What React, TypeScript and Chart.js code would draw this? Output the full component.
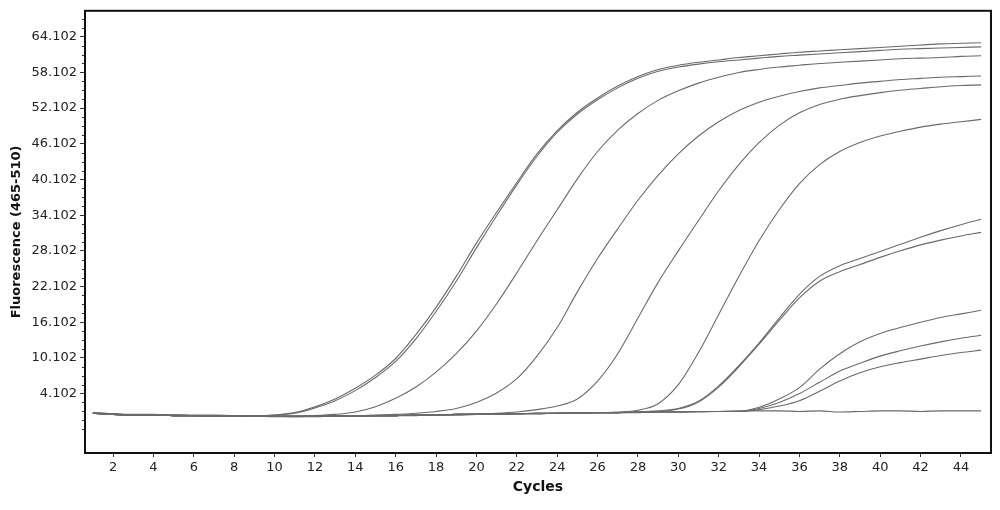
import React, { useEffect, useRef } from "react";
import { Chart, registerables } from "chart.js";

Chart.register(...registerables);

const cycles = [1, 2, 3, 4, 5, 6, 7, 8, 9, 10, 11, 12, 13, 14, 15, 16, 17, 18, 19, 20, 21, 22, 23, 24, 25, 26, 27, 28, 29, 30, 31, 32, 33, 34, 35, 36, 37, 38, 39, 40, 41, 42, 43, 44, 45];

const xTicks = [2, 4, 6, 8, 10, 12, 14, 16, 18, 20, 22, 24, 26, 28, 30, 32, 34, 36, 38, 40, 42, 44];
const yTicks = [4.102, 10.102, 16.102, 22.102, 28.102, 34.102, 40.102, 46.102, 52.102, 58.102, 64.102];

const sampleA = [0.8, 0.6, 0.5, 0.5, 0.4, 0.4, 0.4, 0.4, 0.3, 0.5, 0.9, 1.9, 3.2, 5.0, 7.2, 10.0, 14.0, 18.6, 23.8, 29.4, 34.6, 39.6, 44.4, 48.3, 51.4, 53.8, 55.8, 57.4, 58.6, 59.3, 59.8, 60.2, 60.6, 60.9, 61.2, 61.5, 61.7, 61.9, 62.1, 62.3, 62.5, 62.7, 62.9, 63.0, 63.1];
const sampleB = [0.9, 0.7, 0.6, 0.6, 0.5, 0.5, 0.5, 0.4, 0.4, 0.5, 0.8, 1.7, 2.9, 4.6, 6.8, 9.5, 13.3, 17.9, 23.0, 28.6, 34.0, 39.2, 44.0, 48.0, 51.1, 53.5, 55.5, 57.1, 58.3, 59.0, 59.5, 59.9, 60.2, 60.5, 60.8, 61.0, 61.2, 61.4, 61.6, 61.8, 62.0, 62.1, 62.2, 62.3, 62.4];
const sampleC = [0.8, 0.6, 0.5, 0.5, 0.5, 0.4, 0.4, 0.4, 0.3, 0.3, 0.3, 0.4, 0.6, 1.0, 1.9, 3.3, 5.2, 7.7, 10.8, 14.6, 19.2, 24.4, 29.8, 35.0, 40.2, 44.8, 48.4, 51.2, 53.4, 55.0, 56.3, 57.3, 58.1, 58.6, 59.0, 59.3, 59.6, 59.8, 60.0, 60.2, 60.4, 60.5, 60.6, 60.8, 60.9];
const sampleD = [0.8, 0.6, 0.5, 0.5, 0.4, 0.4, 0.4, 0.3, 0.3, 0.3, 0.3, 0.3, 0.4, 0.4, 0.5, 0.6, 0.8, 1.1, 1.6, 2.6, 4.2, 6.6, 10.4, 15.2, 21.2, 26.8, 31.8, 36.6, 40.8, 44.4, 47.4, 49.8, 51.7, 53.1, 54.1, 54.9, 55.5, 55.9, 56.3, 56.6, 56.9, 57.1, 57.3, 57.4, 57.5];
const sampleE = [0.8, 0.6, 0.5, 0.5, 0.4, 0.4, 0.4, 0.3, 0.3, 0.3, 0.3, 0.3, 0.3, 0.4, 0.4, 0.4, 0.5, 0.5, 0.6, 0.7, 0.8, 1.0, 1.4, 2.0, 3.2, 6.2, 10.8, 16.8, 22.8, 28.1, 33.2, 38.2, 42.6, 46.3, 49.2, 51.3, 52.7, 53.6, 54.2, 54.7, 55.1, 55.4, 55.7, 55.9, 56.0];
const sampleF = [0.8, 0.6, 0.5, 0.5, 0.4, 0.4, 0.4, 0.3, 0.3, 0.3, 0.3, 0.3, 0.3, 0.3, 0.4, 0.4, 0.5, 0.5, 0.6, 0.6, 0.7, 0.7, 0.8, 0.8, 0.9, 0.9, 1.0, 1.3, 2.4, 5.6, 11.0, 17.4, 23.8, 29.8, 35.0, 39.4, 42.6, 44.8, 46.3, 47.4, 48.2, 48.9, 49.4, 49.8, 50.2];
const sampleG = [0.8, 0.6, 0.5, 0.5, 0.4, 0.4, 0.4, 0.3, 0.3, 0.3, 0.3, 0.3, 0.3, 0.3, 0.4, 0.4, 0.5, 0.5, 0.6, 0.6, 0.7, 0.7, 0.8, 0.8, 0.9, 0.9, 0.9, 1.0, 1.2, 1.6, 2.8, 5.4, 8.8, 12.6, 16.8, 20.8, 23.8, 25.6, 26.8, 28.0, 29.2, 30.4, 31.5, 32.5, 33.4];
const sampleH = [0.9, 0.7, 0.5, 0.5, 0.5, 0.4, 0.4, 0.4, 0.3, 0.3, 0.2, 0.2, 0.3, 0.3, 0.4, 0.4, 0.4, 0.5, 0.5, 0.6, 0.6, 0.7, 0.7, 0.8, 0.8, 0.9, 0.9, 1.0, 1.1, 1.5, 2.7, 5.2, 8.6, 12.4, 16.4, 20.2, 23.0, 24.6, 25.8, 27.0, 28.1, 29.1, 29.9, 30.6, 31.2];
const sampleI = [0.8, 0.6, 0.5, 0.5, 0.4, 0.4, 0.4, 0.3, 0.3, 0.3, 0.3, 0.3, 0.3, 0.3, 0.4, 0.4, 0.5, 0.5, 0.6, 0.6, 0.7, 0.7, 0.8, 0.8, 0.9, 0.9, 0.9, 1.0, 1.0, 1.0, 1.1, 1.1, 1.1, 1.8, 3.2, 5.1, 8.2, 10.8, 12.8, 14.2, 15.2, 16.1, 16.9, 17.5, 18.1];
const sampleJ = [0.9, 0.6, 0.5, 0.5, 0.4, 0.4, 0.3, 0.3, 0.3, 0.2, 0.2, 0.3, 0.3, 0.3, 0.4, 0.4, 0.5, 0.5, 0.5, 0.6, 0.6, 0.7, 0.7, 0.8, 0.8, 0.9, 0.9, 1.0, 1.0, 1.0, 1.0, 1.1, 1.1, 1.6, 2.6, 4.1, 6.0, 7.9, 9.2, 10.4, 11.3, 12.1, 12.8, 13.4, 13.9];
const sampleK = [0.8, 0.7, 0.5, 0.5, 0.5, 0.4, 0.4, 0.4, 0.3, 0.3, 0.3, 0.3, 0.3, 0.4, 0.4, 0.4, 0.5, 0.5, 0.6, 0.6, 0.7, 0.7, 0.7, 0.8, 0.8, 0.9, 0.9, 0.9, 1.0, 1.0, 1.1, 1.1, 1.1, 1.4, 2.0, 2.9, 4.5, 6.2, 7.6, 8.6, 9.3, 9.9, 10.5, 11.0, 11.4];
const negativeControl = [0.8, 0.6, 0.5, 0.5, 0.4, 0.4, 0.4, 0.3, 0.3, 0.3, 0.3, 0.3, 0.3, 0.3, 0.4, 0.4, 0.5, 0.5, 0.6, 0.6, 0.7, 0.7, 0.8, 0.8, 0.9, 0.9, 0.9, 1.0, 1.0, 1.0, 1.1, 1.1, 1.2, 1.2, 1.2, 1.1, 1.2, 1.0, 1.1, 1.2, 1.2, 1.1, 1.2, 1.2, 1.2];

const seriesList = [sampleA, sampleB, sampleC, sampleD, sampleE, sampleF, sampleG, sampleH, sampleI, sampleJ, sampleK, negativeControl];

const framePlugin = {
  id: "frameAndMinorTicks",
  afterDraw(chart: any) {
    const { ctx, chartArea, scales } = chart;
    const { left, right, top, bottom } = chartArea;
    const y = scales.y;
    ctx.save();
    ctx.strokeStyle = "#333";
    ctx.lineWidth = 1;
    ctx.beginPath();
    const first = yTicks[0];
    for (let v = first - 6; v <= y.max; v += 1.5) {
      if (v < y.min) continue;
      const isMajor = yTicks.some((t) => Math.abs(t - v) < 1e-6);
      if (isMajor) continue;
      const py = Math.round(y.getPixelForValue(v)) + 0.5;
      ctx.moveTo(left - 3, py);
      ctx.lineTo(left, py);
    }
    ctx.stroke();
    ctx.strokeStyle = "#111";
    ctx.lineWidth = 2;
    ctx.strokeRect(left, top, right - left, bottom - top);
    ctx.restore();
  },
};

export default function App() {
  const canvasRef = useRef<HTMLCanvasElement | null>(null);

  useEffect(() => {
    if (!canvasRef.current) return;
    const datasets = seriesList.map((values) => ({
      data: values.map((v, i) => ({ x: cycles[i], y: v })),
      borderColor: "#6a6a6a",
      borderWidth: 1.1,
      pointRadius: 0,
      fill: false,
      tension: 0,
      cubicInterpolationMode: "monotone" as const,
    }));
    const chart = new Chart(canvasRef.current, {
      type: "line",
      data: { datasets },
      plugins: [framePlugin],
      options: {
        animation: false,
        responsive: false,
        devicePixelRatio: 1,
        layout: { padding: { left: 0, right: 9, top: 9, bottom: 0 } },
        plugins: { legend: { display: false }, tooltip: { enabled: false } },
        scales: {
          x: {
            type: "linear",
            min: 0.61,
            max: 45.49,
            afterBuildTicks: (s: any) => {
              s.ticks = xTicks.map((v) => ({ value: v }));
            },
            afterFit: (s: any) => {
              s.height = 57;
            },
            ticks: {
              autoSkip: false,
              maxRotation: 0,
              padding: 3,
              color: "#222",
              font: { family: "DejaVu Sans", size: 13 },
            },
            grid: { drawOnChartArea: false, tickLength: 4, tickColor: "#333" },
            border: { display: false },
            title: {
              display: true,
              text: "Cycles",
              color: "#111",
              font: { family: "DejaVu Sans", size: 14, weight: "bold" },
              padding: { top: 0, bottom: 14 },
            },
          },
          y: {
            type: "linear",
            min: -5.89,
            max: 68.46,
            afterBuildTicks: (s: any) => {
              s.ticks = yTicks.map((v) => ({ value: v }));
            },
            afterFit: (s: any) => {
              s.width = 85;
            },
            ticks: {
              padding: 3,
              color: "#222",
              font: { family: "DejaVu Sans", size: 13 },
              callback: (v: any) => Number(v).toFixed(3),
            },
            grid: { drawOnChartArea: false, tickLength: 5, tickColor: "#333" },
            border: { display: false },
            title: {
              display: true,
              text: "Fluorescence (465-510)",
              color: "#111",
              font: { family: "DejaVu Sans", size: 13, weight: "bold" },
              padding: { top: 9, bottom: 0 },
            },
          },
        },
      },
    });
    return () => chart.destroy();
  }, []);

  return (
    <div style={{ position: "absolute", left: 0, top: 0, width: 1000, height: 510, background: "#fff" }}>
      <canvas ref={canvasRef} width={1000} height={510} style={{ display: "block" }} />
    </div>
  );
}
